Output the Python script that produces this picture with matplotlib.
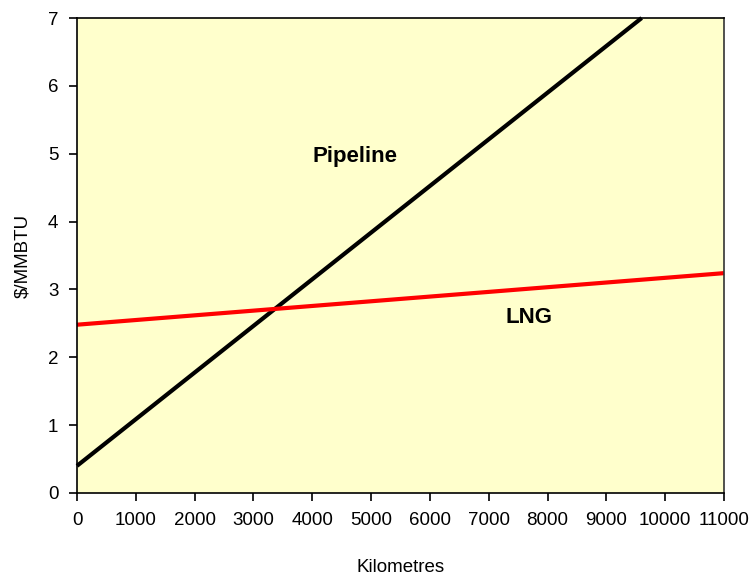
import matplotlib
matplotlib.use('Agg')
import matplotlib.pyplot as plt

plt.rcParams['font.family'] = ['Liberation Sans', 'DejaVu Sans']

# distances (km) and unit costs ($/MMBTU)
pipeline_km = [0, 9600]
pipeline_cost = [0.40, 7.00]
lng_km = [0, 11000]
lng_cost = [2.48, 3.24]

xticks = list(range(0, 11001, 1000))
yticks = list(range(0, 8))

fig = plt.figure(figsize=(7.52, 5.77), dpi=100)
ax = fig.add_axes([0.1024, 0.1456, 0.8604, 0.8232])
ax.set_facecolor('#FFFFCC')

ax.plot(pipeline_km, pipeline_cost, color='black', lw=3, solid_capstyle='butt', clip_on=False)
ax.plot(lng_km, lng_cost, color='#FF0000', lw=3, solid_capstyle='butt', clip_on=False)

ax.text(4730, 4.96, 'Pipeline', fontsize=16, fontweight='bold', ha='center', va='center')
ax.text(7685, 2.58, 'LNG', fontsize=16, fontweight='bold', ha='center', va='center')

ax.set_xlim(0, 11000)
ax.set_ylim(0, 7)
ax.set_xticks(xticks)
ax.set_yticks(yticks)
ax.tick_params(direction='out', length=6, width=1.2, labelsize=13.5, pad=7.5)
for s in ax.spines.values():
    s.set_linewidth(1.2)
ax.spines['right'].set_color('#333333')

ax.set_xlabel('Kilometres', fontsize=13.5, labelpad=22)
ax.set_ylabel('\\$/MMBTU', fontsize=13.5, labelpad=12)

fig.savefig('out.png', dpi=100)
